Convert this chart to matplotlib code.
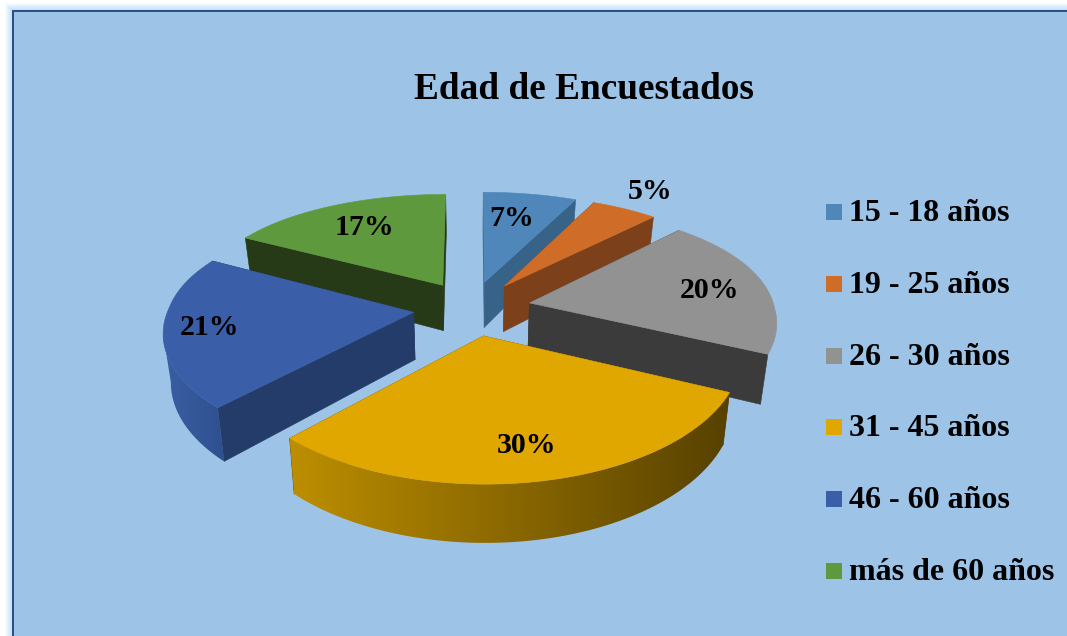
import numpy as np
import matplotlib
matplotlib.use('Agg')
import matplotlib.pyplot as plt
from matplotlib.colors import LinearSegmentedColormap, to_rgb
from matplotlib.patches import Polygon, Rectangle

# Datos del grafico
categorias = ['15 - 18 años', '19 - 25 años', '26 - 30 años', '31 - 45 años',
              '46 - 60 años', 'más de 60 años']
valores = [7, 5, 20, 30, 21, 17]
etiquetas = ['7%', '5%', '20%', '30%', '21%', '17%']
titulo = 'Edad de Encuestados'

# Colores
colores = ['#4f87ba', '#cf6d28', '#929292', '#e0a700', '#3a5fa8', '#5f993e']
colores_lado = ['#386388', '#7c401a', '#3b3b3b', '#5a4300', '#243c69', '#273a18']
borde_izq = ['#386388', '#7c401a', '#3b3b3b', '#bd8e00', '#3a5fa3', '#273a18']
borde_der = ['#386388', '#7c401a', '#444444', '#574100', '#2e508f', '#273a18']
fondo = '#9dc3e6'

# Geometria de la proyeccion
CX, CY = 472, 308
RX, RY = 245, 114
KY_ATRAS, KY_FRENTE = 0.175, 0.162
KX_ATRAS, KX_FRENTE = 0.115, 0.146
EXPLODE = 0.24
ALTO = 47
ESC_BASE = 0.975
radio_etiqueta = [0.72, 1.29, 0.77, 0.77, 0.82, 0.73]
giro_etiqueta = [-2.5, -1.5, 0, 0, 2, 1]


def proyectar(ang, r, medio):
    """Pasa un punto de la porcion (angulo horario desde arriba) a pixeles"""
    u = r * np.sin(ang) + EXPLODE * np.sin(medio)
    v = r * np.cos(ang) + EXPLODE * np.cos(medio)
    w = 1 / (1 + (KY_ATRAS if v > 0 else KY_FRENTE) * v)
    wx = 1 / (1 + (KX_ATRAS if v > 0 else KX_FRENTE) * v)
    return CX + RX * u * wx, CY - RY * v * w, w


def base(x, y, w):
    return CX + (x - CX) * ESC_BASE, y + ALTO * w


def pared(ax, ang, medio, color, z):
    x0, y0, w0 = proyectar(ang, 0, medio)
    x1, y1, w1 = proyectar(ang, 1, medio)
    bx0, by0 = base(x0, y0, w0)
    bx1, by1 = base(x1, y1, w1)
    ax.add_patch(Polygon([(x0, y0), (x1, y1), (bx1, by1), (bx0, by0)],
                         facecolor=color, edgecolor=color, lw=0.4, zorder=z))


fig = plt.figure(figsize=(10.67, 6.36), dpi=100, facecolor='white')
ax = fig.add_axes([0, 0, 1, 1])

# Marco con brillo
for i in range(9, 0, -1):
    t = i / 9
    c = np.array(to_rgb('#b5d9ff')) * (1 - t) + np.array([1, 1, 1]) * t
    ax.add_patch(Rectangle((12.5 - i, 10.5 - i), 1100, 700, facecolor=c, edgecolor='none', zorder=1))
ax.add_patch(Rectangle((12.5, 10.5), 1100, 700, facecolor=fondo,
                       edgecolor='#2b4c7e', lw=1.4, zorder=1))

# Angulos de cada porcion
total = sum(valores)
limites = np.concatenate([[0], np.cumsum(valores)]) / total * 2 * np.pi
medios = (limites[:-1] + limites[1:]) / 2

# De atras hacia adelante
orden = sorted(range(len(valores)), key=lambda n: -np.cos(medios[n]))
z = 2
for n in orden:
    a0, a1, m = limites[n], limites[n + 1], medios[n]
    pared(ax, a0, m, colores_lado[n], z)
    pared(ax, a1, m, colores_lado[n], z)

    angs = np.linspace(a0, a1, 90)
    pts = [proyectar(a, 1, m) for a in angs]

    # Lado exterior con degradado: solo el tramo que mira al frente
    xs_arco = [p[0] for p in pts]
    i_der, i_izq = int(np.argmax(xs_arco)), int(np.argmin(xs_arco))
    if i_der < i_izq:
        tramo = pts[i_der:i_izq + 1]
        contorno = [p[:2] for p in tramo] + [base(*p) for p in tramo[::-1]]
        xs = [p[0] for p in contorno]
        ys = [p[1] for p in contorno]
        cmap = LinearSegmentedColormap.from_list('lado', [borde_izq[n], borde_der[n]])
        forma = Polygon(contorno, facecolor='none', edgecolor='none')
        ax.add_patch(forma)
        img = ax.imshow(np.linspace(0, 1, 256).reshape(1, -1), cmap=cmap, aspect='auto',
                        extent=(min(xs), max(xs), max(ys), min(ys)), zorder=z + 0.1)
        img.set_clip_path(forma)

    arriba = [proyectar(a0, 0, m)[:2]] + [p[:2] for p in pts]
    ax.add_patch(Polygon(arriba, facecolor=colores[n], edgecolor=colores[n], lw=0.4, zorder=z + 0.2))
    z += 1

# Porcentajes
for n, txt in enumerate(etiquetas):
    x, y, _ = proyectar(medios[n] + np.radians(giro_etiqueta[n]), radio_etiqueta[n], medios[n])
    ax.text(x, y + 3, txt, family='Liberation Serif', weight='bold', fontsize=21.5,
            ha='center', va='center', color='black', zorder=20)

# Titulo
ax.text(584, 99, titulo, family='Liberation Serif', weight='bold', fontsize=26.8,
        ha='center', va='baseline', color='black', zorder=20)

# Leyenda
for n, cat in enumerate(categorias):
    yc = 212 + n * 71.8
    ax.add_patch(Rectangle((826, yc - 8), 16, 16, facecolor=colores[n], edgecolor='none', zorder=20))
    ax.text(849, yc + 9, cat, family='Liberation Serif', weight='bold', fontsize=23,
            ha='left', va='baseline', color='black', zorder=20)

ax.set_xlim(0, 1067)
ax.set_ylim(636, 0)
ax.axis('off')

fig.savefig('out.png', dpi=100, facecolor='white')
